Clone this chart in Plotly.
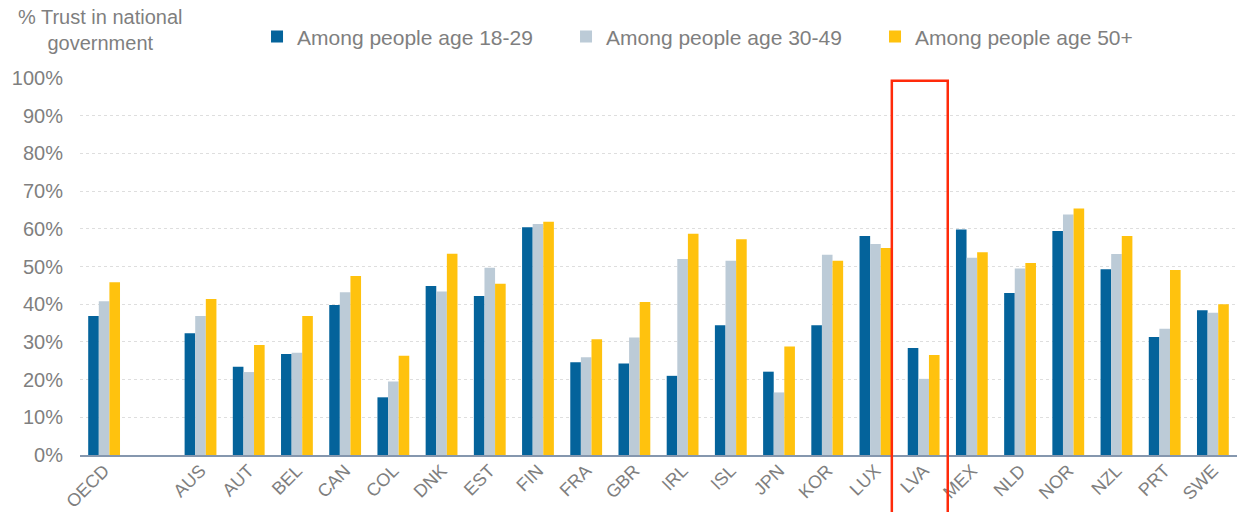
import plotly.graph_objects as go

# Country codes; the blank slot separates the OECD average from the countries
categories = ["OECD", " ", "AUS", "AUT", "BEL", "CAN", "COL", "DNK", "EST", "FIN",
              "FRA", "GBR", "IRL", "ISL", "JPN", "KOR", "LUX", "LVA", "MEX",
              "NLD", "NOR", "NZL", "PRT", "SWE"]

age_18_29 = [36.9, None, 32.3, 23.4, 26.8, 39.8, 15.3, 44.8, 42.2, 60.4,
             24.6, 24.3, 21.0, 34.4, 22.1, 34.4, 58.1, 28.4, 59.8,
             43.0, 59.4, 49.3, 31.3, 38.4]
age_30_49 = [40.8, None, 36.9, 22.0, 27.1, 43.2, 19.5, 43.4, 49.7, 61.3,
             25.9, 31.2, 52.0, 51.5, 16.6, 53.1, 56.0, 20.2, 52.3,
             49.5, 63.8, 53.3, 33.5, 37.7]
age_50_plus = [45.8, None, 41.4, 29.2, 36.9, 47.5, 26.3, 53.4, 45.4, 61.9,
               30.7, 40.6, 58.7, 57.2, 28.8, 51.5, 54.9, 26.5, 53.8,
               50.9, 65.4, 58.1, 49.1, 40.0]

series_names = ["Among people age 18-29", "Among people age 30-49", "Among people age 50+"]
series_colors = ["#04639b", "#bccbd7", "#ffc20e"]

highlight = "LVA"
y_ticks = list(range(0, 101, 10))
y_tick_text = [f"{v}%" for v in y_ticks]

fig = go.Figure()
for name, vals, col in zip(series_names, [age_18_29, age_30_49, age_50_plus], series_colors):
    fig.add_trace(go.Bar(
        x=categories, y=vals, name=name,
        marker=dict(color=col, line=dict(width=0)),
    ))

grey = "#7f7f7f"
font_family = "Liberation Sans, Arial, sans-serif"

hi_idx = categories.index(highlight)
fig.add_shape(type="rect", xref="x", yref="paper",
              x0=hi_idx - 0.66, x1=hi_idx + 0.5, y0=-0.2, y1=0.993,
              line=dict(color="#ff2a0a", width=2.5), fillcolor="rgba(0,0,0,0)",
              layer="above")

fig.add_annotation(text="% Trust in national<br>government", xref="paper", yref="paper",
                   x=0.018, y=1.126, xanchor="center", yanchor="middle", showarrow=False,
                   font=dict(size=20, color=grey, family=font_family), align="center")

fig.update_layout(
    width=1237, height=512,
    margin=dict(l=80, r=0, t=78, b=57, autoexpand=False),
    paper_bgcolor="white", plot_bgcolor="white",
    barmode="group", bargap=0.34, bargroupgap=0,
    font=dict(family=font_family, color=grey, size=18),
    showlegend=True,
    legend=dict(orientation="h", x=0.153, y=1.109, xanchor="left", yanchor="middle",
                font=dict(size=21, color=grey, family=font_family),
                entrywidth=264, entrywidthmode="pixels",
                bgcolor="rgba(0,0,0,0)", itemclick=False),
    xaxis=dict(type="category", categoryorder="array", categoryarray=categories,
               tickangle=-45, tickfont=dict(size=18, color=grey),
               showline=True, linecolor="#8597ae", linewidth=2,
               showgrid=False, ticks="", ticklabelstandoff=-4),
    yaxis=dict(range=[0, 100], tickmode="array", tickvals=y_ticks, ticktext=y_tick_text,
               tickfont=dict(size=20, color=grey),
               showgrid=True, gridcolor="#dedede", griddash="3px,3px", gridwidth=1,
               zeroline=False, showline=False, ticks="", ticklabelstandoff=16),
)

fig.write_html("out.html")
